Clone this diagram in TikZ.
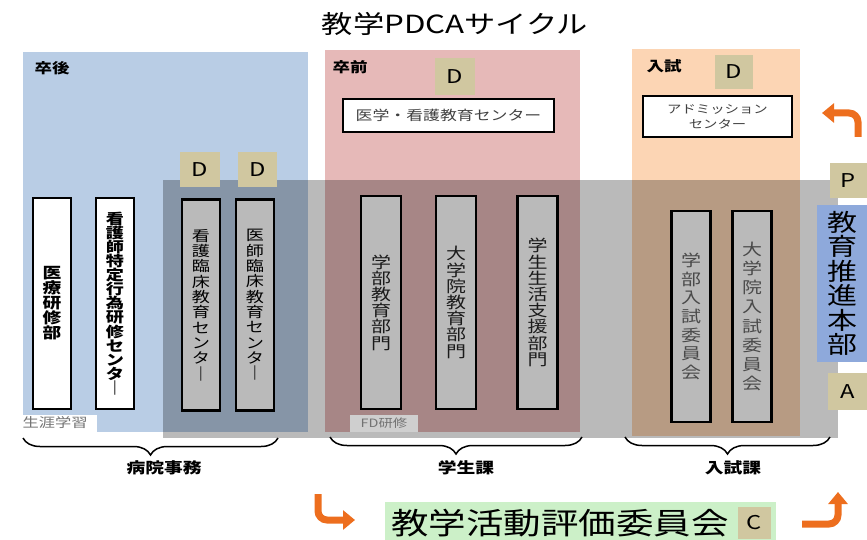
\documentclass[tikz,border=0pt]{standalone}
\usepackage{fontspec}
\newfontfamily\jp[FakeStretch=1.25]{Noto Sans CJK JP}
\usetikzlibrary{arrows.meta,decorations.pathreplacing}

\definecolor{sotsugo}{RGB}{185,205,229}
\definecolor{sotsuzen}{RGB}{230,185,184}
\definecolor{nyushi}{RGB}{252,213,180}
\definecolor{dtan}{RGB}{208,199,160}
\definecolor{honbu}{RGB}{142,169,219}
\definecolor{hyoka}{RGB}{204,240,200}
\definecolor{yajirushi}{RGB}{237,110,30}

\newcommand{\pxsize}[2]{\fontsize{#1}{#2}\selectfont}

\tikzset{
  tate/.style={draw=black, line width=2.4pt, fill=white, minimum width=38pt,
    minimum height=211pt, inner sep=0pt, align=center},
  yoko/.style={draw=black, line width=2.4pt, fill=white, inner sep=0pt, align=center},
  dbox/.style={fill=dtan, inner sep=0pt, font=\jp\pxsize{19}{19}},
  kakko/.style={decorate, decoration={brace, mirror, amplitude=17pt}, line width=1.5pt},
  junkan/.style={draw=yajirushi, line width=7pt, rounded corners=9pt,
    -{Triangle[length=12pt,width=19pt]}},
  midashi/.style={font=\jp\bfseries\pxsize{14}{14}},
  bu/.style={font=\jp\bfseries\pxsize{15}{15}}
}

\begin{document}
\begin{tikzpicture}[x=1pt, y=-1pt]
  \useasboundingbox (0,0) rectangle (867,540);

  % title
  \node[font=\jp\pxsize{25}{25}] (title) at (455,24) {教学PDCAサイクル};

  % regions
  \fill[sotsugo] (23,52) rectangle (308,432);
  \fill[sotsuzen] (325,50) rectangle (580,432);
  \fill[nyushi] (632,49) rectangle (800,436);
  \node[midashi] (lsotsugo) at (52,68) {卒後};
  \node[midashi] (lsotsuzen) at (350,67) {卒前};
  \node[midashi] (lnyushi) at (664,66) {入試};

  % boxes
  \node[tate, font=\jp\bfseries\pxsize{15}{15}] (iryo) at (52,303.5) {医\\療\\研\\修\\部};
  \node[tate, font=\jp\bfseries\pxsize{14.5}{14.1}] (tokutei) at (115,303.5)
    {看\\護\\師\\特\\定\\行\\為\\研\\修\\セ\\ン\\タ\\｜};
  \node[tate, font=\jp\pxsize{14.5}{15.3}] (kango) at (201,305)
    {看\\護\\臨\\床\\教\\育\\セ\\ン\\タ\\｜};
  \node[tate, font=\jp\pxsize{14.5}{15.3}] (ishi) at (255,305)
    {医\\師\\臨\\床\\教\\育\\セ\\ン\\タ\\｜};
  \node[tate, minimum width=40pt, minimum height=213pt, text=black!85,
    font=\jp\pxsize{16}{16.2}] (gakubu) at (381,302.5) {学\\部\\教\\育\\部\\門};
  \node[tate, minimum width=40pt, minimum height=213pt, text=black!85,
    font=\jp\pxsize{16}{16.2}] (daigakuin) at (456,302.5) {大\\学\\院\\教\\育\\部\\門};
  \node[tate, minimum width=40pt, minimum height=213pt, text=black!85,
    font=\jp\pxsize{16}{16.2}] (seikatsu) at (537.5,302.5) {学\\生\\生\\活\\支\\援\\部\\門};
  \node[tate, minimum width=39pt, text=black!60,
    font=\jp\pxsize{16}{18.7}] (gnyushi) at (691,316.5) {学\\部\\入\\試\\委\\員\\会};
  \node[tate, minimum width=39pt, text=black!60,
    font=\jp\pxsize{16}{19.1}] (dnyushi) at (752,316.5) {大\\学\\院\\入\\試\\委\\員\\会};

  \node[yoko, minimum width=211pt, minimum height=33pt, text=black!75,
    font=\jp\pxsize{13.5}{15}] (center) at (448.5,115.5) {医学・看護教育センター};
  \node[yoko, minimum width=149pt, minimum height=41pt, text=black!75,
    font=\jp\pxsize{11.5}{15}] (admission) at (717.5,116.5) {アドミッション\\センター};

  % grey band
  \fill[black, fill opacity=0.27] (163,180) rectangle (838,438);

  % D, P, A
  \node[dbox, minimum width=40pt, minimum height=37pt] (dsotsuzen) at (455,76.5) {D};
  \node[dbox, minimum width=38pt, minimum height=34pt] (dnyushi) at (734,72) {D};
  \node[dbox, minimum width=40pt, minimum height=35pt] (dkango) at (200,169.5) {D};
  \node[dbox, minimum width=39pt, minimum height=35pt] (dishi) at (257.5,169.5) {D};
  \node[dbox, minimum width=37pt, minimum height=35pt] (plan) at (848.5,180.5) {P};
  \node[dbox, minimum width=39pt, minimum height=37pt] (act) at (847.5,391.5) {A};
  \node[fill=honbu, minimum width=50pt, minimum height=157pt, inner sep=0pt, align=center,
    font=\jp\pxsize{24}{24.5}] (honbu) at (842,283.5) {教\\育\\推\\進\\本\\部};

  \fill[white] (23,415) rectangle (97,432);
  \node[text=black!55, font=\jp\pxsize{13}{13}] (shogai) at (55,423) {生涯学習};
  \node[fill=black!19, minimum width=68pt, minimum height=17pt, inner sep=0pt, text=black!55,
    font=\jp\pxsize{11.5}{11.5}] (fd) at (384,423.5) {FD研修};

  % braces
  \coordinate (byoinL) at (23,438);
  \coordinate (byoinR) at (278,438);
  \coordinate (gakuseiL) at (330,437);
  \coordinate (gakuseiR) at (582,437);
  \coordinate (nyushiL) at (625,437);
  \coordinate (nyushiR) at (830,437);
  \draw[kakko] (byoinL) -- (byoinR);
  \draw[kakko] (gakuseiL) -- (gakuseiR);
  \draw[kakko] (nyushiL) -- (nyushiR);
  \node[bu] (byoin) at (164,468) {病院事務};
  \node[bu] (gakusei) at (466,468) {学生課};
  \node[bu] (nyushika) at (733,468) {入試課};

  % check
  \node[fill=hyoka, minimum width=391pt, minimum height=39pt, inner sep=0pt] (hyokabox) at (580.5,521.5) {};
  \node[font=\jp\pxsize{30}{30}] (hyoka) at (560,523) {教学活動評価委員会};
  \node[dbox, minimum width=33pt, minimum height=32pt] (check) at (754.5,523) {C};

  % cycle arrows
  \coordinate (toplan1) at (858,137);
  \coordinate (toplan2) at (822,113);
  \coordinate (tocheck1) at (318,494);
  \coordinate (tocheck2) at (355,520);
  \coordinate (toact1) at (802,524);
  \coordinate (toact2) at (838,492);
  \draw[junkan] (toplan1) |- (toplan2);
  \draw[junkan] (tocheck1) |- (tocheck2);
  \draw[junkan] (toact1) -| (toact2);
\end{tikzpicture}
\end{document}
